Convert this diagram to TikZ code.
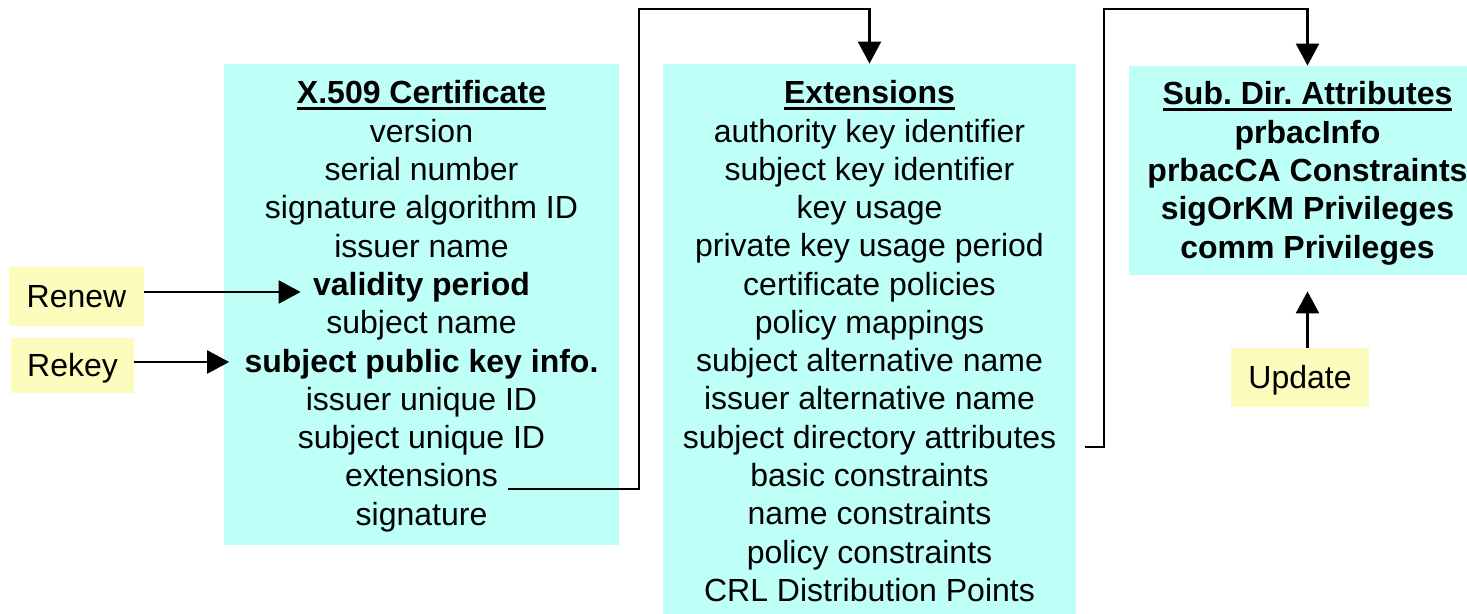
\documentclass[tikz,border=0pt]{standalone}
\usepackage{fontspec}
\setmainfont{Liberation Sans}
\usetikzlibrary{arrows.meta}
\frenchspacing
\definecolor{cyanbox}{RGB}{190,255,248}
\definecolor{yelbox}{RGB}{252,252,188}
\newcommand{\titleul}[1]{\setbox0\hbox{\bfseries #1}\rlap{\rule[-2.9pt]{\wd0}{1.2pt}}\box0}
\tikzset{
  certbox/.style={fill=cyanbox, draw=none, inner sep=0pt},
  notebox/.style={fill=yelbox, draw=none, inner sep=0pt, text height=11.5pt, text depth=0pt, font=\fontsize{16}{19}\selectfont},
  ln/.style={anchor=base, inner ysep=0pt, inner xsep=3.5pt, font=\fontsize{16}{19}\selectfont},
  lnb/.style={ln, font=\fontsize{16}{19}\selectfont\bfseries},
  conn/.style={line width=1.1pt, -{Triangle[length=11pt,width=11.5pt]}}
}
\begin{document}
\begin{tikzpicture}[x=0.5pt,y=-0.5pt]
\useasboundingbox (0,0) rectangle (1467,614);
\clip (0,0) rectangle (1467,614);
% boxes
\node[certbox, minimum width=197.5pt, minimum height=240.5pt] (cb) at (421.5,304.5) {};
\node[certbox, minimum width=206.5pt, minimum height=278pt] (eb) at (869.5,342) {};
\node[certbox, minimum width=178.5pt, minimum height=104.5pt] (sb) at (1307.5,170.5) {};
\node[notebox, minimum width=67.5pt, minimum height=29.5pt] (renew) at (76.5,296.5) {Renew};
\node[notebox, minimum width=61.5pt, minimum height=27.5pt] (rekey) at (72.5,365.5) {Rekey};
\node[notebox, minimum width=69pt, minimum height=29.5pt] (upd) at (1300,377.5) {Update};
% certificate lines
\node[ln] (c0) at (421.5,104) {\titleul{X.509 Certificate}};
\node[ln] (c1) at (421.5,142.3) {version};
\node[ln] (c2) at (421.5,180.6) {serial number};
\node[ln] (c3) at (421.5,218.9) {signature algorithm ID};
\node[ln] (c4) at (421.5,257.2) {issuer name};
\node[lnb] (c5) at (421.5,295.5) {validity period};
\node[ln] (c6) at (421.5,333.8) {subject name};
\node[lnb] (c7) at (421.5,372.1) {subject public key info.};
\node[ln] (c8) at (421.5,410.4) {issuer unique ID};
\node[ln] (c9) at (421.5,448.7) {subject unique ID};
\node[ln] (c10) at (421.5,487) {extensions};
\node[ln] (c11) at (421.5,525.3) {signature};
% extension lines
\node[ln] (e0) at (869.5,104) {\titleul{Extensions}};
\node[ln] (e1) at (869.5,142.25) {authority key identifier};
\node[ln] (e2) at (869.5,180.5) {subject key identifier};
\node[ln] (e3) at (869.5,218.75) {key usage};
\node[ln] (e4) at (869.5,257) {private key usage period};
\node[ln] (e5) at (869.5,295.25) {certificate policies};
\node[ln] (e6) at (869.5,333.5) {policy mappings};
\node[ln] (e7) at (869.5,371.75) {subject alternative name};
\node[ln] (e8) at (869.5,410) {issuer alternative name};
\node[ln] (e9) at (869.5,448.25) {subject directory attributes};
\node[ln] (e10) at (869.5,486.5) {basic constraints};
\node[ln] (e11) at (869.5,524.75) {name constraints};
\node[ln] (e12) at (869.5,563) {policy constraints};
\node[ln] (e13) at (869.5,601.25) {CRL Distribution Points};
% sub dir attributes lines
\node[ln] (s0) at (1307.5,105) {\titleul{Sub. Dir. Attributes}};
\node[lnb] (s1) at (1307.5,143.3) {prbacInfo};
\node[lnb] (s2) at (1307.5,181.6) {prbacCA Constraints};
\node[lnb] (s3) at (1307.5,219.9) {sigOrKM Privileges};
\node[lnb] (s4) at (1307.5,258.2) {comm Privileges};
% connector corners
\coordinate (k1) at (639,9);
\coordinate (k2) at (1104,9);
% connectors
\draw[conn, shorten >=2.5pt] ([yshift=2.25pt]renew.east) -- ([yshift=2.25pt]renew.east -| c5.west);
\draw[conn, shorten >=4pt] ([yshift=1.75pt]rekey.east) -- ([yshift=1.75pt]rekey.east -| c7.west);
\draw[conn] ([xshift=1.5pt,yshift=-1pt]c10.base east) -| (k1) -| (eb.north);
\draw[conn] ([xshift=10.5pt,yshift=0.5pt]e9.base east) -| (k2) -| (sb.north);
\draw[conn] (upd.north -| sb.south) -- ([yshift=-8pt]sb.south);
\end{tikzpicture}
\end{document}
